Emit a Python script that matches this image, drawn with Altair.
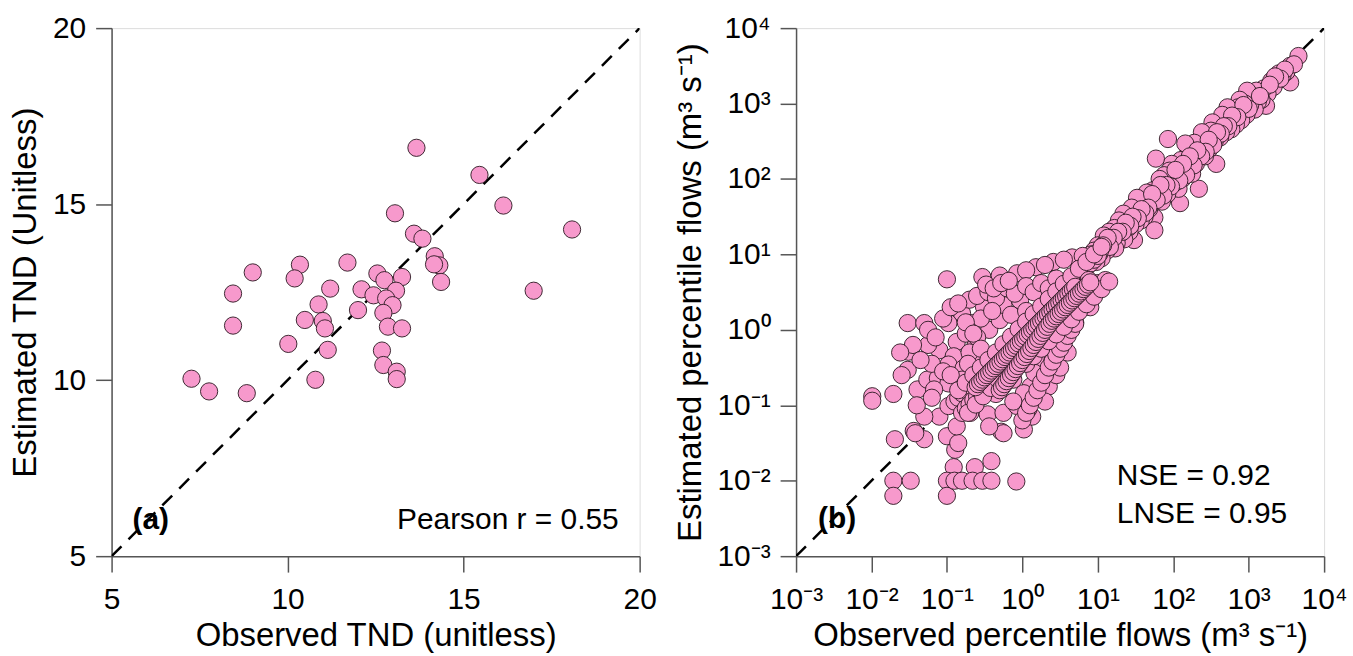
import altair as alt
import pandas as pd

# ---------------- Panel (a): TND ----------------
tnd_observed = [13.66, 15.45, 13.05, 16.13, 18.08, 13.59, 13.83, 14.18, 14.31, 14.16,
                14.36, 16.99, 9.01, 10.35, 10.20, 11.70, 8.45, 8.45, 11.21, 10.88,
                10.49, 11.00, 11.06, 10.02, 11.14, 7.27, 7.77, 8.84, 10.79, 12.55,
                12.10, 12.75, 13.25, 13.08, 12.44, 12.80, 12.98, 12.00, 12.72, 12.85,
                13.25, 12.68, 12.72, 13.10, 13.10]
tnd_estimated = [16.60, 15.83, 14.74, 14.96, 14.28, 14.16, 14.02, 13.52, 13.26, 13.29,
                 12.79, 12.54, 13.06, 13.28, 12.89, 13.34, 12.46, 11.55, 12.60, 12.15,
                 11.71, 11.68, 11.47, 11.03, 10.86, 10.04, 9.68, 9.63, 10.01, 13.03,
                 12.58, 12.84, 12.93, 12.54, 12.41, 12.32, 12.13, 11.99, 11.91, 11.52,
                 11.47, 10.84, 10.43, 10.24, 10.03]
tnd_ticks = [5, 10, 15, 20]

# ---------------- Panel (b): percentile flows (log10 of m3/s) ----------------
upper_obs_log = [3.66, 3.55, 3.55, 3.50, 3.45, 3.40, 3.38, 3.33, 3.30, 3.25, 3.23, 3.20, 3.17, 3.12,
                 3.10, 3.08, 3.05, 3.02, 2.98, 2.97, 2.95, 2.92, 2.90, 2.88, 2.86, 2.83, 2.80, 2.77,
                 2.75, 2.72, 2.70, 2.68, 2.65, 2.62, 2.60, 2.57, 2.55, 2.52, 2.50, 2.48, 2.45, 2.42,
                 2.40, 2.38, 2.34, 2.33, 2.30, 2.28, 2.25, 2.23, 2.20, 2.18, 2.16, 2.12, 2.10, 2.09,
                 2.07, 2.05, 2.02, 1.98, 1.95, 1.93, 1.92, 1.90, 1.88, 1.85, 1.84, 1.82, 1.80, 1.77,
                 1.75, 1.75, 1.73, 1.70, 1.68, 1.65, 1.62, 1.60, 1.57, 1.57, 1.55, 1.52, 1.50, 1.48,
                 1.47, 1.45, 1.42, 1.41, 1.40, 1.38, 1.35, 1.34, 1.32, 1.30, 1.28, 1.25, 1.23, 1.22,
                 1.20, 1.18, 1.15, 1.12, 1.10, 1.08, 1.05, 1.02, 1.00, 0.98, 0.95]
upper_est_log = [3.63, 3.50, 3.28, 3.42, 3.38, 3.40, 3.30, 3.22, 3.30, 3.13, 2.97, 3.20, 3.05, 3.02,
                 3.17, 2.92, 3.10, 2.98, 3.17, 2.85, 3.00, 2.90, 2.78, 3.05, 2.95, 2.72, 2.88, 2.66,
                 2.80, 2.95, 2.62, 2.75, 2.85, 2.55, 2.68, 2.20, 2.50, 2.75, 2.64, 2.40, 2.55, 2.30,
                 2.45, 2.62, 1.87, 2.35, 2.20, 2.48, 2.07, 2.29, 2.40, 2.15, 2.47, 2.00, 2.25, 1.68,
                 1.87, 2.10, 1.95, 2.20, 2.11, 2.53, 1.80, 1.98, 2.05, 1.70, 1.89, 2.00, 1.78, 2.27,
                 1.49, 1.32, 1.85, 1.72, 1.60, 1.82, 1.50, 1.70, 1.67, 1.45, 1.58, 1.75, 1.40, 1.19,
                 1.55, 1.62, 1.30, 1.36, 1.50, 1.45, 1.20, 1.54, 1.38, 1.28, 1.45, 1.15, 1.08, 1.35,
                 1.28, 1.20, 1.30, 1.05, 1.18, 1.25, 0.95, 1.01, 1.12, 0.90, 1.05]

upper2_obs_log = [3.60, 3.48, 3.42, 3.35, 3.28, 3.15, 3.00, 2.93, 2.85, 2.78, 2.73, 2.67, 2.63, 2.58,
                  2.53, 2.47, 2.43, 2.37, 2.32, 2.27, 2.22, 2.17, 2.13, 2.08, 2.03, 1.97, 1.91, 1.87,
                  1.83, 1.78, 1.72, 1.67, 1.63, 1.58, 1.53, 1.46, 1.43, 1.37, 1.33, 1.27, 1.21, 1.16,
                  1.13, 1.07, 1.03]
upper2_est_log = [3.52, 3.45, 3.33, 3.36, 3.25, 3.10, 2.93, 2.98, 2.82, 2.84, 2.70, 2.70, 2.60, 2.62,
                  2.45, 2.52, 2.36, 2.30, 2.38, 2.18, 2.30, 2.05, 2.20, 1.98, 2.12, 1.90, 1.92, 1.78,
                  1.92, 1.72, 1.80, 1.62, 1.55, 1.60, 1.48, 1.50, 1.38, 1.42, 1.30, 1.30, 1.22, 1.10,
                  1.22, 1.12, 1.05]

fan_obs_log = [-1.00, -0.53, -0.30, -0.07, 0.18, 0.41, 0.66, 0.91, 0.55, 0.30, 0.05, 0.80]
fan_est_log = [0.67, 0.70, 0.72, 0.75, 0.83, 0.90, 0.96, 1.00, 0.93, 0.86, 0.79, 0.98]

cloud_obs_log = [-1.99, -1.99, -1.71, -1.51, -1.52, -1.52, -1.30, -1.39, -1.69, -1.44, -1.30, -0.91,
                 -0.63, -0.41, -0.89, -1.00, -0.85, 0.02, -0.28, 0.13, 0.47, -0.98, -0.80, -0.66,
                 -0.87, -1.10, -0.91, -0.98, -0.78, -0.53, -0.62, -0.44, -0.30, -0.51, -0.25, -0.03,
                 -1.26, -1.12, -0.98, -0.80, -1.17, -1.10, -1.30, -0.98, -0.87, -0.69, -0.46, -0.25,
                 -0.25, -0.44, -0.07, 0.11, 0.20, 0.02, 0.29, 0.20, 0.29, 0.38, 0.16, -0.03,
                 -0.12, 0.16, -1.42, -0.70, -0.60, -0.45, -0.35, -0.20, -0.10, 0.05, 0.15, 0.25,
                 0.35, 0.45, -0.55, -0.40, -0.15, 0.05, -0.75, -0.60, -1.20, -1.05, -1.25, -0.70,
                 0.40, 0.50, 0.55, 0.60, 0.65, 0.70, 0.75, 0.85, 0.90, 0.95, 1.00, 0.35, 0.45,
                 0.50, 0.30, 0.60]
cloud_est_log = [-0.88, -0.94, -0.85, -0.29, -0.53, 0.09, 0.09, -0.79, -1.45, -1.34, -1.45, -1.82,
                 -1.82, -1.74, -1.59, -1.41, -1.50, -1.32, -1.35, -1.15, -0.29, 0.09, 0.22, 0.09,
                 -0.16, -0.27, -0.35, -0.46, -0.51, -0.38, -0.20, 0.00, 0.13, 0.31, 0.33, 0.39,
                 -0.66, -0.64, -0.71, -0.66, -0.79, -1.15, -1.15, -1.01, -1.28, -1.10, -1.12, -1.10,
                 -1.37, -1.28, -1.01, -0.75, -0.88, -0.84, -0.57, -0.40, -0.13, 0.09, 0.00, -0.22,
                 -0.66, -0.57, -1.37, 0.40, 0.45, 0.50, 0.42, 0.55, 0.48, 0.58, 0.50, 0.62,
                 0.55, 0.68, 0.15, 0.25, 0.20, 0.25, -0.05, -0.10, -0.45, -0.55, -0.20, -0.30,
                 -0.40, -0.15, 0.05, -0.05, 0.20, 0.10, 0.35, 0.45, 0.30, 0.55, 0.62, -0.75, -0.60,
                 -0.50, -0.95, -0.30]

cloud2_obs_log = [-1.60, -1.45, -1.35, -1.25, -1.15, -1.05, -0.95, -0.85, -0.75, -0.65, -0.55, -0.48,
                  -0.38, -0.28, -0.18, -1.62, -1.40, -1.20, -0.95, -0.72, -0.50, -0.35, -0.12, 0.08]
cloud2_est_log = [-0.60, -0.20, -0.40, 0.00, -0.10, 0.15, 0.30, 0.35, 0.10, -0.05, -0.25, 0.60,
                  0.55, 0.62, 0.65, -0.30, -1.00, -0.90, -0.60, -0.45, -0.70, -0.85, -0.95, -1.05]

floor_obs_log = [-1.71, -1.71, -1.48, -1.00, -1.00, -0.90, -0.80, -0.66, -0.53, -0.41, -0.08]
floor_est_log = [-2.00, -2.20, -2.00, -2.00, -2.20, -2.00, -2.00, -2.00, -2.00, -2.00, -2.01]

strand_obs_log = [
    -0.90, -0.85, -0.80, -0.75, -0.70, -0.65, -0.60, -0.55, -0.50, -0.45, -0.40, -0.35, -0.30,
    -0.25, -0.20, -0.15, -0.10, -0.05, 0.00, 0.05, 0.10, 0.15, 0.20, 0.25, 0.30, 0.35, 0.40,
    0.45, 0.50, 0.55, 0.60, 0.65, 0.70, 0.75, 0.80, 0.85, 0.90, 0.95, 1.00,
    -0.80, -0.75, -0.70, -0.65, -0.60, -0.55, -0.50, -0.45, -0.40, -0.35, -0.30, -0.25, -0.20,
    -0.15, -0.10, -0.05, 0.00, 0.05, 0.10, 0.15, 0.20, 0.25, 0.30, 0.35, 0.40, 0.45, 0.50,
    0.55, 0.60, 0.65, 0.70, 0.75, 0.80,
    -0.10, -0.05, 0.00, 0.05, 0.10, 0.15, 0.20, 0.25, 0.30, 0.35, 0.40, 0.45, 0.50, 0.55,
    0.60, 0.65, 0.70, 0.75, 0.80, 0.85, 0.90, 0.95, 1.00, 1.05, 1.10,
    0.00, 0.05, 0.10, 0.15, 0.20, 0.25, 0.30, 0.35, 0.40, 0.45, 0.50, 0.55, 0.60, 0.65, 0.70]
strand_est_log = [
    -0.95, -0.90, -0.84, -0.80, -0.74, -0.70, -0.64, -0.58, -0.54, -0.48, -0.43, -0.38, -0.32,
    -0.28, -0.22, -0.17, -0.12, -0.07, -0.02, 0.03, 0.08, 0.13, 0.18, 0.23, 0.28, 0.33, 0.38,
    0.43, 0.48, 0.53, 0.58, 0.63, 0.68, 0.73, 0.78, 0.83, 0.88, 0.93, 0.98,
    -1.10, -1.04, -0.99, -0.93, -0.88, -0.82, -0.77, -0.71, -0.66, -0.60, -0.55, -0.49, -0.44,
    -0.38, -0.33, -0.27, -0.22, -0.16, -0.11, -0.05, 0.00, 0.06, 0.11, 0.17, 0.22, 0.28, 0.33,
    0.39, 0.44, 0.50, 0.55, 0.61, 0.66,
    -0.45, -0.40, -0.36, -0.31, -0.27, -0.22, -0.17, -0.13, -0.08, -0.04, 0.01, 0.06, 0.10, 0.15,
    0.19, 0.24, 0.29, 0.33, 0.38, 0.43, 0.47, 0.52, 0.57, 0.61, 0.66,
    -1.20, -1.10, -1.00, -0.90, -0.80, -0.70, -0.60, -0.50, -0.42, -0.33, -0.25, -0.17, -0.08, 0.00, 0.08]

strand2_obs_log = [
    -0.85, -0.75, -0.65, -0.55, -0.45, -0.35, -0.25, -0.15, -0.05, 0.05, 0.15, 0.25, 0.35, 0.45,
    0.55, 0.65, 0.75, 0.85, 0.95, 1.05,
    -0.72, -0.62, -0.52, -0.42, -0.32, -0.22, -0.12, -0.02, 0.08, 0.18, 0.28, 0.38, 0.48, 0.58,
    0.68, 0.78, 0.88,
    0.05, 0.15, 0.25, 0.35, 0.45, 0.55, 0.65, 0.75, 0.85, 0.95, 1.05, 1.15]
strand2_est_log = [
    -0.80, -0.70, -0.60, -0.50, -0.40, -0.30, -0.19, -0.09, 0.01, 0.11, 0.21, 0.31, 0.41, 0.51,
    0.61, 0.71, 0.81, 0.90, 1.00, 1.10,
    -1.10, -0.99, -0.88, -0.77, -0.66, -0.55, -0.44, -0.33, -0.22, -0.11, 0.00, 0.11, 0.22, 0.33,
    0.44, 0.55, 0.66,
    -0.45, -0.35, -0.25, -0.15, -0.06, 0.04, 0.14, 0.24, 0.34, 0.44, 0.54, 0.64]

dense_obs_log = [
    -0.62, -0.59, -0.56, -0.53, -0.50, -0.47, -0.44, -0.41, -0.38, -0.35, -0.32, -0.29, -0.26,
    -0.23, -0.20, -0.17, -0.14, -0.11, -0.08, -0.05, -0.02, 0.01, 0.04, 0.07, 0.10, 0.13, 0.16,
    0.19, 0.22, 0.25, 0.28, 0.31, 0.34, 0.37, 0.40, 0.43, 0.46, 0.49, 0.52, 0.55, 0.58, 0.61,
    0.64, 0.67, 0.70,
    -0.30, -0.27, -0.24, -0.21, -0.18, -0.15, -0.12, -0.09, -0.06, -0.03, 0.00, 0.03, 0.06,
    0.09, 0.12, 0.15, 0.18, 0.21, 0.24, 0.27, 0.30, 0.33, 0.36, 0.39, 0.42, 0.45, 0.48, 0.51,
    0.54, 0.57, 0.60, 0.63, 0.66, 0.69, 0.72, 0.75, 0.78, 0.81, 0.84, 0.87, 0.90]
dense_est_log = [
    -0.76, -0.72, -0.69, -0.66, -0.63, -0.60, -0.57, -0.54, -0.51, -0.48, -0.45, -0.42, -0.39,
    -0.36, -0.33, -0.30, -0.27, -0.24, -0.21, -0.18, -0.15, -0.12, -0.09, -0.06, -0.03, 0.00,
    0.03, 0.06, 0.09, 0.12, 0.15, 0.18, 0.21, 0.24, 0.27, 0.30, 0.33, 0.36, 0.39, 0.42, 0.45,
    0.48, 0.51, 0.54, 0.57,
    -0.80, -0.76, -0.72, -0.68, -0.64, -0.60, -0.56, -0.52, -0.48, -0.44, -0.40, -0.36, -0.32,
    -0.28, -0.24, -0.20, -0.16, -0.12, -0.08, -0.04, 0.00, 0.04, 0.08, 0.12, 0.15, 0.18, 0.21,
    0.24, 0.27, 0.30, 0.33, 0.36, 0.39, 0.42, 0.45, 0.48, 0.51, 0.54, 0.57, 0.60, 0.63]

flow_ticks = [0.001, 0.01, 0.1, 1, 10, 100, 1000, 10000]

PINK = "#f799cc"
EDGE = "#2a1820"
FRAME = "#555555"
FONT = "Liberation Sans"
W = 530
H = 530
MSIZE = 300

obs_all = (upper_obs_log + upper2_obs_log + fan_obs_log + cloud_obs_log + cloud2_obs_log
           + floor_obs_log + strand_obs_log + strand2_obs_log + dense_obs_log)
est_all = (upper_est_log + upper2_est_log + fan_est_log + cloud_est_log + cloud2_est_log
           + floor_est_log + strand_est_log + strand2_est_log + dense_est_log)
df_b = pd.DataFrame({"obs": [10 ** v for v in obs_all], "est": [10 ** v for v in est_all]})
df_a = pd.DataFrame({"obs": tnd_observed, "est": tnd_estimated})


def ax(title, values, label_expr=None, xaxis=True):
    kw = dict(values=values, title=title, grid=False, tickSize=16, tickWidth=1.5,
              tickColor=FRAME, domainColor=FRAME, domainWidth=1.5,
              labelFont=FONT, labelFontSize=30, labelColor="black",
              labelPadding=13 if xaxis else 10,
              titleFont=FONT, titleFontSize=33, titleFontWeight="normal", titleColor="black",
              titlePadding=5 if xaxis else 10, labelFlush=False, labelOverlap=False)
    if label_expr:
        kw["labelExpr"] = label_expr
    return alt.Axis(**kw)


# ---- panel a
sx_a = alt.Scale(domain=[5, 20], nice=False, zero=False)
sy_a = alt.Scale(domain=[5, 20], nice=False, zero=False)
line_a = alt.Chart(pd.DataFrame({"obs": [5, 20], "est": [5, 20]})).mark_line(
    color="black", strokeDash=[14, 10], strokeWidth=2.5, clip=True
).encode(
    x=alt.X("obs:Q", scale=sx_a, axis=ax("Observed TND (unitless)", tnd_ticks)),
    y=alt.Y("est:Q", scale=sy_a, axis=ax("Estimated TND (Unitless)", tnd_ticks, xaxis=False)),
)
pts_a = alt.Chart(df_a).mark_circle(size=MSIZE, color=PINK, stroke=EDGE, strokeWidth=0.9, opacity=1).encode(
    x=alt.X("obs:Q", scale=sx_a), y=alt.Y("est:Q", scale=sy_a)
)
lab_a = alt.Chart(pd.DataFrame({"t": ["(a)"]})).mark_text(
    font=FONT, fontSize=30, fontWeight="bold", align="left", baseline="middle", color="black"
).encode(text="t:N", x=alt.value(21), y=alt.value(494))
r_a = alt.Chart(pd.DataFrame({"t": ["Pearson r = 0.55"]})).mark_text(
    font=FONT, fontSize=30, align="right", baseline="middle", color="black"
).encode(text="t:N", x=alt.value(509), y=alt.value(494))
chart_a = alt.layer(line_a, pts_a, lab_a, r_a).properties(width=W, height=H)

# ---- panel b
sup = ("['10\u207b\u00b3','10\u207b\u00b2','10\u207b\u00b9','10\u2070','10\u00b9','10\u00b2',"
       "'10\u00b3','10\u2074'][round(log(datum.value)/LN10)+3]")
sx_b = alt.Scale(type="log", domain=[0.001, 10000], nice=False)
sy_b = alt.Scale(type="log", domain=[0.001, 10000], nice=False)
line_b = alt.Chart(pd.DataFrame({"obs": [0.001, 10000], "est": [0.001, 10000]})).mark_line(
    color="black", strokeDash=[14, 10], strokeWidth=2.5, clip=True
).encode(
    x=alt.X("obs:Q", scale=sx_b,
            axis=ax("Observed percentile flows (m\u00b3 s\u207b\u00b9)", flow_ticks, sup)),
    y=alt.Y("est:Q", scale=sy_b,
            axis=ax("Estimated percentile flows (m\u00b3 s\u207b\u00b9)", flow_ticks, sup, xaxis=False)),
)
pts_b = alt.Chart(df_b).mark_circle(size=MSIZE, color=PINK, stroke=EDGE, strokeWidth=0.9, opacity=1).encode(
    x=alt.X("obs:Q", scale=sx_b), y=alt.Y("est:Q", scale=sy_b)
)
lab_b = alt.Chart(pd.DataFrame({"t": ["(b)"]})).mark_text(
    font=FONT, fontSize=30, fontWeight="bold", align="left", baseline="middle", color="black"
).encode(text="t:N", x=alt.value(22), y=alt.value(493))
nse_b = alt.Chart(pd.DataFrame({"t": ["NSE = 0.92", "LNSE = 0.95"], "yy": [450, 488]})).mark_text(
    font=FONT, fontSize=30, align="left", baseline="middle", color="black"
).encode(text="t:N", x=alt.value(322), y=alt.Y("yy:Q", scale=None))
chart_b = alt.layer(line_b, pts_b, lab_b, nse_b).properties(width=W, height=H)

chart = alt.hconcat(chart_a, chart_b, spacing=157, bounds="flush").properties(
    padding={"left": 9, "top": 11, "right": 5, "bottom": 5}
).configure_view(stroke=FRAME, strokeWidth=1.5).configure(background="white")

chart.save("out.html", embed_options={"renderer": "svg", "actions": False})
